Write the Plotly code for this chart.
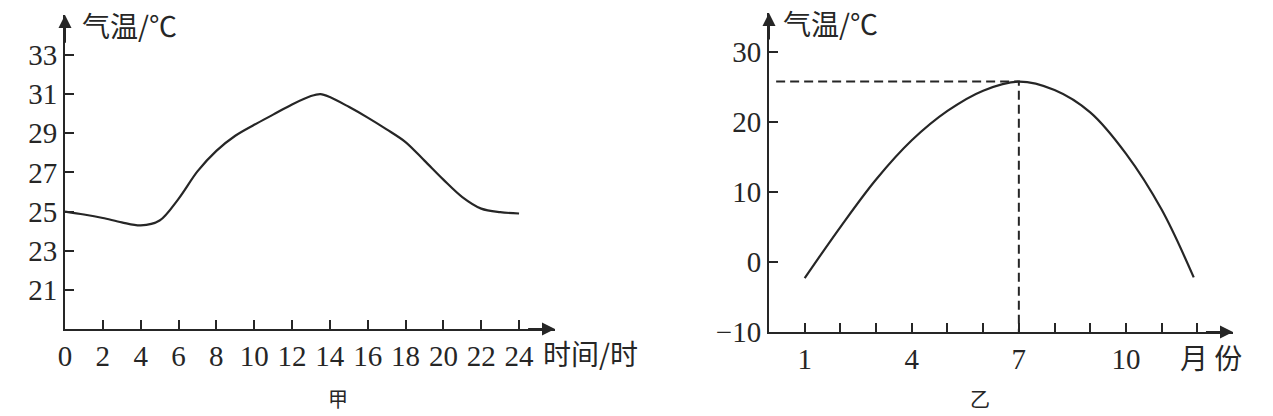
import plotly.graph_objects as go

# ---------------- data ----------------
# 甲: daily temperature (hour -> °C)
hours = [0, 1, 2, 3, 4, 5, 6, 7, 8, 9, 10, 11, 12, 13, 13.5, 14, 15, 16, 17, 18, 19, 20, 21, 22, 23, 24]
temp_day = [25.0, 24.85, 24.67, 24.45, 24.29, 24.54, 25.65, 27.05, 28.1, 28.87, 29.43, 29.95, 30.47,
            30.9, 31.0, 30.85, 30.35, 29.8, 29.2, 28.55, 27.6, 26.63, 25.74, 25.15, 24.97, 24.9]
day_xticks = list(range(0, 25, 2))
day_yticks = [21, 23, 25, 27, 29, 31, 33]

# 乙: yearly temperature (month -> °C)
months = [1, 2, 3, 4, 5, 6, 7, 8, 9, 10, 11, 11.9]
temp_year = [-2.3, 5.0, 11.8, 17.4, 21.6, 24.5, 25.8, 24.6, 21.4, 15.5, 7.5, -2.2]
year_xticks = list(range(1, 13))
year_xlabels = ["1", "", "", "4", "", "", "7", "", "", "10", "", ""]
year_yticks = [-10, 0, 10, 20, 30]
year_ylabels = ["\u221210", "0", "10", "20", "30"]

# ---------------- styling ----------------
W, H = 1273, 416
INK = "#262626"
NUM_FONT = dict(family="Liberation Serif, Times New Roman, serif", size=29, color=INK)
CJK = "Noto Sans CJK SC"


def px(x):
    return x / W


def py(y):
    return 1 - y / H


day_xrange = [0, 25.9]
day_yrange = [19, 35.04]
year_xrange = [0, 13.0]
year_yrange = [-10, 35.6]

fig = go.Figure()

fig.add_trace(go.Scatter(
    x=hours, y=temp_day, mode="lines",
    line=dict(color=INK, width=2.2, shape="spline", smoothing=0.9),
    xaxis="x", yaxis="y", showlegend=False, hoverinfo="skip"))

fig.add_trace(go.Scatter(
    x=months, y=temp_year, mode="lines",
    line=dict(color=INK, width=2.2, shape="spline", smoothing=1.0),
    xaxis="x2", yaxis="y2", showlegend=False, hoverinfo="skip"))

# dashed guide lines to the July peak
peak = max(temp_year)
peak_month = months[temp_year.index(peak)]
fig.add_trace(go.Scatter(
    x=[0.2, peak_month, peak_month], y=[peak, peak, year_yrange[0]], mode="lines",
    line=dict(color=INK, width=2, dash="9px,5px"),
    xaxis="x2", yaxis="y2", showlegend=False, hoverinfo="skip"))

axis_common = dict(
    showline=True, linecolor=INK, linewidth=2, ticks="inside", ticklen=9,
    tickwidth=2, tickcolor=INK, showgrid=False, zeroline=False,
    tickfont=NUM_FONT, fixedrange=True, automargin=False,
)

fig.update_layout(
    template="none",
    width=W, height=H,
    margin=dict(l=0, r=0, t=0, b=0, pad=0, autoexpand=False),
    paper_bgcolor="white", plot_bgcolor="white",
    xaxis=dict(domain=[px(65), px(555)], range=day_xrange, tickvals=day_xticks,
               anchor="y", **axis_common),
    yaxis=dict(domain=[py(329), py(15)], range=day_yrange, tickvals=day_yticks,
               anchor="x", **axis_common),
    xaxis2=dict(domain=[px(769), px(1233)], range=year_xrange, tickvals=year_xticks,
                ticktext=year_xlabels, anchor="y2", **axis_common),
    yaxis2=dict(domain=[py(332), py(13)], range=year_yrange, tickvals=year_yticks,
                ticktext=year_ylabels, anchor="x2", **axis_common),
)

# arrowheads at the ends of the axes
arrows = [
    ("x", "y", day_xrange[1], day_yrange[0], day_xrange[1] - 1.5, day_yrange[0]),
    ("x", "y", day_xrange[0], day_yrange[1], day_xrange[0], day_yrange[1] - 1.5),
    ("x2", "y2", year_xrange[1], year_yrange[0], year_xrange[1] - 0.8, year_yrange[0]),
    ("x2", "y2", year_xrange[0], year_yrange[1], year_xrange[0], year_yrange[1] - 4),
]
for xr, yr, x, y, ax, ay in arrows:
    fig.add_annotation(x=x, y=y, ax=ax, ay=ay, xref=xr, yref=yr, axref=xr, ayref=yr,
                       text="", showarrow=True, arrowhead=2, arrowsize=1.3,
                       arrowwidth=2, arrowcolor=INK, standoff=0)

labels = [
    ("气温/℃", 129, 25, 28),
    ("时间/时", 590, 353, 28),
    ("甲", 338, 398, 20),
    ("气温/℃", 830, 23, 28),
    ("月 份", 1211, 357, 28),
    ("乙", 980, 398, 20),
]
for text, x, y, size in labels:
    fig.add_annotation(x=px(x), y=py(y), xref="paper", yref="paper", text=text,
                       showarrow=False, xanchor="center", yanchor="middle",
                       font=dict(family=CJK, size=size, color=INK))

fig.write_html(
    "out.html",
    config={"displayModeBar": False},
    post_script="document.body.style.margin='0';document.body.style.overflow='hidden';",
)
